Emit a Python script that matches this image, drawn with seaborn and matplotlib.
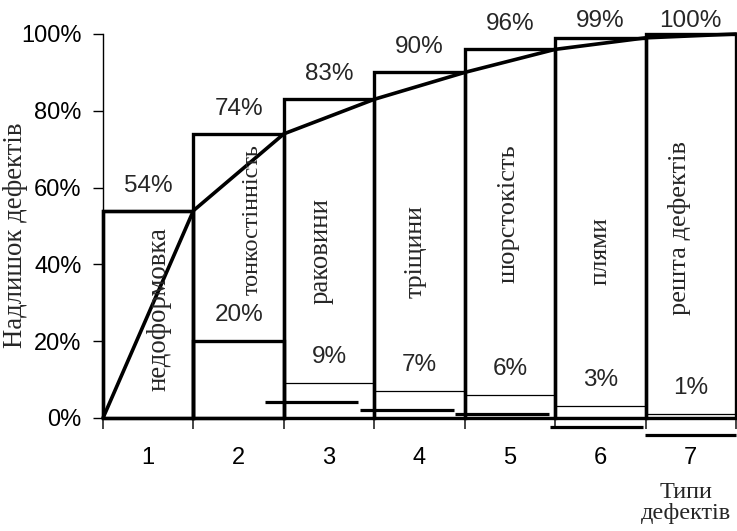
import matplotlib
matplotlib.use("Agg")
import matplotlib.pyplot as plt
import pandas as pd
import seaborn as sns

# Defect categories and their shares of all defects (%)
defect_types = ["1", "2", "3", "4", "5", "6", "7"]
defect_names = ["недоформовка", "тонкостінність", "раковини", "тріщини",
                "шорстокість", "плями", "решта дефектів"]
share_pct = [54, 20, 9, 7, 6, 3, 1]
cumulative_pct = [54, 74, 83, 90, 96, 99, 100]
y_ticks_pct = [0, 20, 40, 60, 80, 100]

# Stray baseline strokes left under bars 3-7 (level in %, span in bar units)
stray_level_pct = [4.2, 2.1, 1.0, -2.3, -4.4]
stray_from = [1.29, 2.34, 3.39, 4.44, 5.49]
stray_to = [2.32, 3.38, 4.43, 5.47, 6.50]

sns.set_theme(style="ticks")
plt.rcParams["font.family"] = ["Liberation Sans", "DejaVu Sans"]
SERIF = ["Liberation Serif", "DejaVu Serif"]

W, H = 737, 531
fig = plt.figure(figsize=(W / 100, H / 100), dpi=100)
ax = fig.add_axes([103 / W, 1 - 418 / H, (736 - 103) / W, (418 - 34) / H])

df = pd.DataFrame({"type": defect_types, "share": share_pct, "cum": cumulative_pct})

# Cumulative bars (outlined)
sns.barplot(data=df, x="type", y="cum", fill=False, color="black", width=1.0,
            linewidth=2.4, errorbar=None, ax=ax)
n_cum = len(ax.patches)
# Individual share bars (outlined, thin)
sns.barplot(data=df, x="type", y="share", fill=False, color="black", width=1.0,
            linewidth=0.9, errorbar=None, ax=ax)
share_patches = ax.patches[n_cum:]
share_patches[0].set_linewidth(2.4)
share_patches[1].set_linewidth(2.4)
for p in ax.patches:
    p.set_clip_on(False)

# Cumulative curve through bar edges
edges = [i - 0.5 for i in range(len(defect_types) + 1)]
sns.lineplot(x=edges, y=[0] + cumulative_pct, color="black", linewidth=2.6,
             ax=ax, clip_on=False)

# Stray baseline strokes
strays = ax.hlines(stray_level_pct, stray_from, stray_to, colors="black", linewidth=2.3)
strays.set_clip_on(False)

# Value labels
for i, (s, c) in enumerate(zip(share_pct, cumulative_pct)):
    ax.text(i, min(c + 6.5, 103.5), f"{c}%", ha="center", va="center", fontsize=17.5)
    if i > 0:
        ax.text(i, s + 6.8, f"{s}%", ha="center", va="center", fontsize=17.5)

# Vertical category names inside the bars: (x offset, y centre in %, size)
name_pos = [(0.12, 28.4, 19.3), (0.15, 51.8, 17.5), (-0.09, 43.6, 19.3),
            (-0.04, 43.4, 18.6), (-0.02, 53.3, 19), (0.0, 43.5, 18.4),
            (-0.12, 49.5, 19)]
for i, (name, (dx, yc, fs)) in enumerate(zip(defect_names, name_pos)):
    ax.text(i + dx, yc, name, rotation=90, ha="center", va="center",
            fontsize=fs, family=SERIF)

ax.set_xlim(-0.5, len(defect_types) - 0.5)
ax.set_ylim(0, 100)
ax.set_yticks(y_ticks_pct)
ax.set_yticklabels([f"{v}%" for v in y_ticks_pct])
ax.set_xticks(range(len(defect_types)))
ax.set_xticklabels(defect_types)
ax.set_xticks(edges, minor=True)
ax.set_xlabel("")
ax.set_ylabel("")
ax.tick_params(axis="y", direction="out", length=7, width=1.0, pad=8.5,
               labelsize=17, colors="black")
ax.tick_params(axis="x", which="major", length=0, pad=21, labelsize=17, colors="black")
ax.tick_params(axis="x", which="minor", direction="out", length=8, width=1.2)

for side in ("top", "right"):
    ax.spines[side].set_visible(False)
ax.spines["left"].set_linewidth(1.0)
ax.spines["bottom"].set_linewidth(1.5)
ax.spines["left"].set_color("black")
ax.spines["bottom"].set_color("black")

fig.text(16 / W, 1 - 235 / H, "Надлишок дефектів", rotation=90, ha="center",
         va="center", fontsize=19.3, family=SERIF)
fig.text(686 / W, 1 - 503 / H, "Типи\nдефектів", ha="center", va="center",
         fontsize=17.5, family=SERIF, linespacing=0.95)

fig.savefig("out.png", dpi=100)
